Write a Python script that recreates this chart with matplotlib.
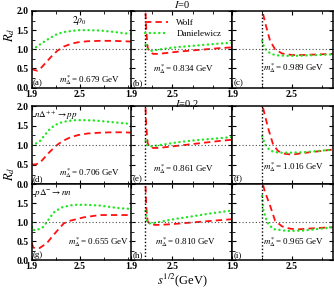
import numpy as np
import matplotlib
matplotlib.use("Agg")
import matplotlib.pyplot as plt

plt.rcParams.update({"font.family": "Liberation Serif",
                     "mathtext.fontset": "stix",
                     "font.size": 7})

### curves: (x = s^1/2 in GeV, y = R_d)
wolf_a_x = [1.90, 1.93, 1.97, 2.02, 2.08, 2.15, 2.22, 2.30, 2.40, 2.50, 2.60, 2.75, 2.90, 3.05, 3.16]
wolf_a_y = [0.50, 0.46, 0.44, 0.52, 0.66, 0.82, 0.96, 1.07, 1.15, 1.19, 1.21, 1.22, 1.22, 1.21, 1.20]
dan_a_x = [1.90, 1.95, 2.00, 2.07, 2.15, 2.22, 2.30, 2.40, 2.50, 2.60, 2.75, 2.90, 3.05, 3.16]
dan_a_y = [1.00, 1.05, 1.12, 1.22, 1.32, 1.40, 1.45, 1.48, 1.50, 1.50, 1.49, 1.46, 1.42, 1.40]

wolf_b_x = [2.11, 2.12, 2.14, 2.17, 2.22, 2.30, 2.45, 2.60, 2.80, 3.00, 3.20, 3.38]
wolf_b_y = [1.95, 1.50, 1.05, 0.93, 0.88, 0.88, 0.91, 0.94, 0.97, 1.00, 1.03, 1.05]
dan_b_x = [2.11, 2.13, 2.16, 2.20, 2.30, 2.45, 2.60, 2.80, 3.00, 3.20, 3.38]
dan_b_y = [1.12, 1.02, 0.97, 0.96, 0.99, 1.03, 1.06, 1.09, 1.12, 1.15, 1.17]

wolf_c_x = [2.21, 2.24, 2.28, 2.33, 2.40, 2.50, 2.60, 2.70, 2.80, 2.91]
wolf_c_y = [1.92, 1.60, 1.22, 1.00, 0.89, 0.85, 0.85, 0.86, 0.87, 0.88]
dan_c_x = [2.20, 2.22, 2.25, 2.30, 2.36, 2.45, 2.55, 2.65, 2.75, 2.85, 2.91]
dan_c_y = [1.22, 1.05, 0.95, 0.87, 0.84, 0.83, 0.83, 0.84, 0.85, 0.86, 0.87]

wolf_d_x = [1.90, 1.95, 2.00, 2.05, 2.12, 2.20, 2.28, 2.38, 2.48, 2.60, 2.75, 2.90, 3.05, 3.16]
wolf_d_y = [0.51, 0.51, 0.55, 0.66, 0.82, 0.98, 1.10, 1.20, 1.26, 1.30, 1.32, 1.33, 1.33, 1.32]
dan_d_x = [1.90, 1.95, 2.00, 2.06, 2.12, 2.18, 2.25, 2.35, 2.45, 2.55, 2.70, 2.85, 3.00, 3.16]
dan_d_y = [1.00, 1.04, 1.10, 1.25, 1.40, 1.50, 1.57, 1.62, 1.64, 1.64, 1.63, 1.60, 1.57, 1.54]

wolf_e_x = [2.11, 2.12, 2.14, 2.17, 2.22, 2.30, 2.45, 2.60, 2.80, 3.00, 3.20, 3.38]
wolf_e_y = [1.95, 1.50, 1.05, 0.96, 0.93, 0.93, 0.96, 0.99, 1.03, 1.07, 1.11, 1.14]
dan_e_x = [2.11, 2.13, 2.16, 2.20, 2.30, 2.45, 2.60, 2.80, 3.00, 3.20, 3.38]
dan_e_y = [1.12, 1.01, 0.97, 0.97, 1.00, 1.04, 1.08, 1.12, 1.15, 1.18, 1.21]

wolf_f_x = [2.21, 2.26, 2.31, 2.36, 2.43, 2.50, 2.61, 2.78, 2.91]
wolf_f_y = [1.95, 1.44, 1.02, 0.85, 0.78, 0.76, 0.80, 0.85, 0.89]
dan_f_x = [2.20, 2.23, 2.28, 2.36, 2.50, 2.61, 2.75, 2.91]
dan_f_y = [1.23, 1.02, 0.86, 0.81, 0.81, 0.82, 0.85, 0.89]

wolf_g_x = [1.90, 1.92, 1.96, 2.00, 2.09, 2.17, 2.30, 2.38, 2.55, 2.75, 3.00, 3.16]
wolf_g_y = [0.45, 0.33, 0.31, 0.32, 0.45, 0.66, 0.97, 1.04, 1.13, 1.19, 1.19, 1.19]
dan_g_x = [1.90, 1.905, 1.96, 2.04, 2.10, 2.17, 2.27, 2.42, 2.59, 2.75, 3.00, 3.16]
dan_g_y = [1.00, 0.80, 0.79, 0.87, 1.04, 1.25, 1.39, 1.46, 1.46, 1.44, 1.37, 1.35]

wolf_h_x = [2.11, 2.12, 2.14, 2.18, 2.25, 2.32, 2.50, 2.70, 2.90, 3.10, 3.38]
wolf_h_y = [1.95, 1.40, 1.02, 0.95, 0.93, 0.93, 0.95, 0.98, 1.01, 1.04, 1.08]
dan_h_x = [2.11, 2.13, 2.16, 2.20, 2.35, 2.55, 2.81, 3.05, 3.38]
dan_h_y = [1.30, 1.02, 0.97, 0.97, 1.02, 1.09, 1.16, 1.23, 1.31]

wolf_i_x = [2.21, 2.23, 2.28, 2.33, 2.40, 2.48, 2.55, 2.71, 2.91]
wolf_i_y = [1.98, 1.79, 1.44, 1.04, 0.89, 0.83, 0.81, 0.84, 0.87]
dan_i_x = [2.20, 2.21, 2.25, 2.31, 2.45, 2.61, 2.75, 2.91]
dan_i_y = [1.70, 1.35, 1.00, 0.82, 0.77, 0.78, 0.82, 0.87]

masses = ["0.679", "0.834", "0.989",
          "0.706", "0.861", "1.016",
          "0.655", "0.810", "0.965"]
panel_tags = ["(a)", "(b)", "(c)", "(d)", "(e)", "(f)", "(g)", "(h)", "(i)"]
thresholds = [None, 2.105, 2.20]      # vertical dotted line per column
col_xmax = [3.16, 3.38, 2.91]

curves = [(wolf_a_x, wolf_a_y, dan_a_x, dan_a_y),
          (wolf_b_x, wolf_b_y, dan_b_x, dan_b_y),
          (wolf_c_x, wolf_c_y, dan_c_x, dan_c_y),
          (wolf_d_x, wolf_d_y, dan_d_x, dan_d_y),
          (wolf_e_x, wolf_e_y, dan_e_x, dan_e_y),
          (wolf_f_x, wolf_f_y, dan_f_x, dan_f_y),
          (wolf_g_x, wolf_g_y, dan_g_x, dan_g_y),
          (wolf_h_x, wolf_h_y, dan_h_x, dan_h_y),
          (wolf_i_x, wolf_i_y, dan_i_x, dan_i_y)]

### layout (fractions of a 334x289 canvas)
fig = plt.figure(figsize=(3.34, 2.89), dpi=100)
col_left = [0.095, 0.393, 0.695]
col_w = 0.302
row_bot = [0.697, 0.362, 0.100]
row_h = [0.265, 0.271, 0.262]

# (x, y) in axes fraction for the m*_Delta labels
mass_pos = [(0.27, 0.10), (0.22, 0.24), (0.31, 0.25),
            (0.27, 0.14), (0.22, 0.20), (0.31, 0.22),
            (0.36, 0.24), (0.24, 0.24), (0.31, 0.24)]

red = "#ff1010"
green = "#22e622"

for k in range(9):
    r, c = divmod(k, 3)
    ax = fig.add_axes([col_left[c], row_bot[r], col_w, row_h[r]])
    wx, wy, dx, dy = curves[k]
    ax.plot(wx, wy, color=red, lw=1.3, dashes=[3.5, 2.3], label="Wolf")
    ax.plot(dx, dy, color=green, lw=1.7, linestyle=(0, (0.1, 1.9)),
            dash_capstyle="round", label="Danielewicz")
    ax.axhline(1.0, color="0.3", lw=0.8, linestyle=(0, (1, 2)))
    if thresholds[c] is not None:
        ax.axvline(thresholds[c], color="k", lw=1.0, linestyle=(0, (1, 1.5)))
    ax.set_xlim(1.9, col_xmax[c])
    ax.set_ylim(0, 2)
    ax.set_xticks([1.9, 2.5])
    ax.set_xticks([2.2, 2.8, 3.1] if col_xmax[c] > 3.1 else [2.2, 2.8], minor=True)
    ax.set_yticks([0, 0.5, 1.0, 1.5, 2.0])
    ax.set_yticks([0.25, 0.75, 1.25, 1.75], minor=True)
    ax.tick_params(which="both", direction="in", top=True, right=True,
                   labelsize=7, pad=1.5)
    ax.tick_params(which="major", length=3, width=0.8)
    ax.tick_params(which="minor", length=2, width=0.6)
    for sp in ax.spines.values():
        sp.set_linewidth(1.1)
    if c == 0:
        if r == 2:
            ax.set_yticklabels(["0.0", "0.5", "1.0", "1.5", ""])
        else:
            ax.set_yticklabels(["0.0", "0.5", "1.0", "1.5", "2.0"])
        ax.tick_params(axis="y", pad=2.5)
    else:
        ax.set_yticklabels([])
    if r == 1:
        ax.set_xticklabels([])
    for lab in ax.get_xticklabels() + ax.get_yticklabels():
        lab.set_fontweight("bold")
    ax.text(mass_pos[k][0], mass_pos[k][1],
            r"$m^*_{\Delta}$= " + masses[k] + " GeV",
            transform=ax.transAxes, fontsize=6.5, va="center")
    ax.text(0.01, 0.01, panel_tags[k], transform=ax.transAxes,
            fontsize=6.5, va="bottom", ha="left")
    if k == 0:
        ax.text(0.40, 0.88, r"$2\rho_0$", transform=ax.transAxes,
                fontsize=7, va="center")
    if k == 1:
        ax.legend(loc="upper left", bbox_to_anchor=(0.08, 0.97), frameon=False,
                  fontsize=6.5, handlelength=2.6, handletextpad=0.9,
                  labelspacing=0.35, borderaxespad=0.2)
    if k == 3:
        ax.text(0.02, 0.88, r"$n\Delta^{++}\rightarrow pp$",
                transform=ax.transAxes, fontsize=6.5, va="center")
    if k == 6:
        ax.text(0.02, 0.88, r"$p\Delta^{-}\rightarrow nn$",
                transform=ax.transAxes, fontsize=6.5, va="center")

fig.text(0.006, 0.88, r"$R_d$", rotation=90, fontsize=9, va="center")
fig.text(0.006, 0.40, r"$R_d$", rotation=90, fontsize=9, va="center")
fig.text(0.545, 0.984, r"$I$=0", fontsize=7.5, ha="center", va="center")
fig.text(0.56, 0.641, r"$I$=0.2", fontsize=7.5, ha="center", va="center")
fig.text(0.545, 0.032, r"$s^{1/2}$(GeV)", fontsize=9, ha="center", va="center")

fig.savefig("out.png", dpi=100)
